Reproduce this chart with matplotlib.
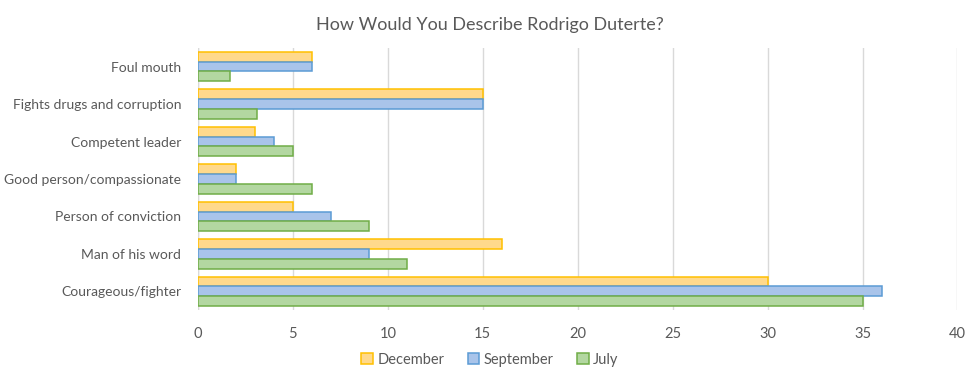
import numpy as np
import matplotlib.pyplot as plt

# ============================================================================
# DATA
# ============================================================================

categories = ['Courageous/fighter', 'Man of his word', 'Person of conviction',
              'Good person/compassionate', 'Competent leader',
              'Fights drugs and corruption', 'Foul mouth']
december = [30, 16, 5, 2, 3, 15, 6]
september = [36, 9, 7, 2, 4, 15, 6]
july = [35, 11, 9, 6, 5, 3.1, 1.7]

series_names = ['December', 'September', 'July']
fill_colors = ['#FFD98C', '#A9C4EA', '#B3D7A1']
edge_colors = ['#FFC000', '#5B9BD5', '#70AD47']

# ============================================================================
# PLOT
# ============================================================================

plt.rcParams['font.family'] = ['Lato', 'DejaVu Sans']

fig = plt.figure(figsize=(9.8, 3.8), dpi=100)
ax = fig.add_axes([0.202, 0.184, 0.775, 0.69])

y = np.arange(len(categories))
h = 0.26
offsets = [h, 0, -h]
for vals, name, fc, ec, off in zip([december, september, july], series_names,
                                   fill_colors, edge_colors, offsets):
    ax.barh(y + off, vals, height=h, color=fc, edgecolor=ec, linewidth=1.1,
            label=name, zorder=3)

ax.set_xlim(0, 40)
ax.set_ylim(-0.5, len(categories) - 0.5)
ax.set_xticks(range(0, 41, 5))
ax.set_yticks(y)
ax.set_yticklabels(categories)
ax.tick_params(axis='x', length=0, colors='#595959', labelsize=10.5, pad=12)
ax.tick_params(axis='y', length=0, colors='#595959', labelsize=10, pad=12)
ax.grid(axis='x', color='#D9D9D9', linewidth=1, zorder=0)
for s in ax.spines.values():
    s.set_visible(False)
ax.axvline(0, color='#D9D9D9', linewidth=1, zorder=1)

fig.suptitle('How Would You Describe Rodrigo Duterte?', y=0.955,
             fontsize=13, color='#595959')

fig.legend(loc='lower center', bbox_to_anchor=(0.5, 0.0), ncol=3,
           frameon=False, fontsize=10.5, labelcolor='#595959',
           handlelength=0.8, handleheight=0.8, handletextpad=0.3,
           columnspacing=1.6)

plt.savefig('out.png', dpi=100)
